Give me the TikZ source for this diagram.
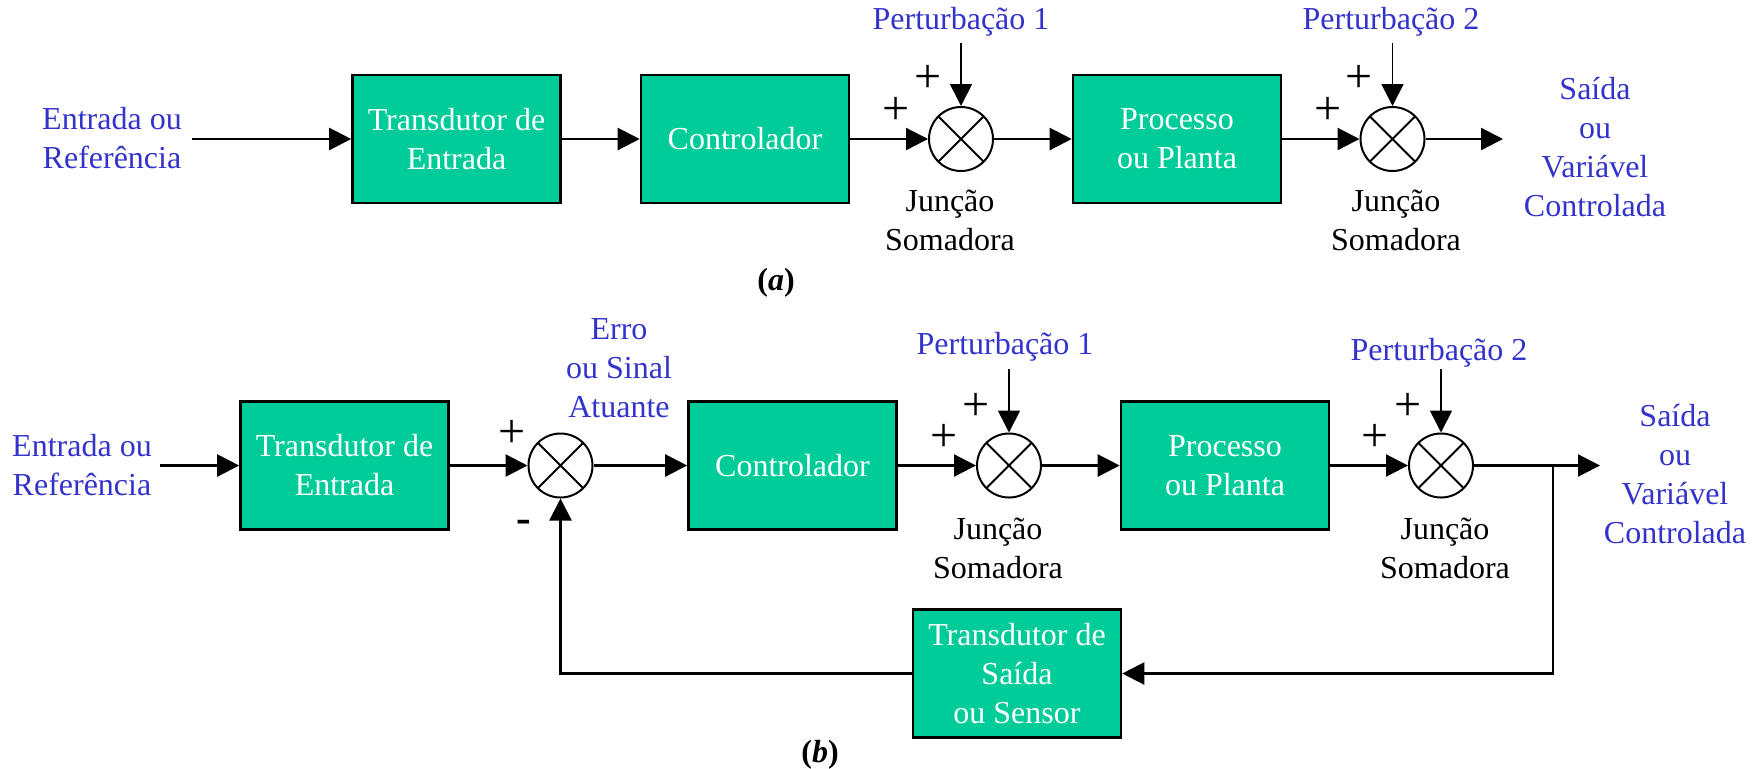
\documentclass[tikz,border=0pt]{standalone}
\usepackage{fontspec}
\setmainfont{Liberation Serif}
\usetikzlibrary{arrows.meta}
\definecolor{boxgreen}{RGB}{0,204,153}
\definecolor{txtblue}{RGB}{51,51,204}
\tikzset{
  every node/.style={font=\fontsize{16pt}{19.5pt}\selectfont},
  blk/.style={draw, line width=1.3pt, fill=boxgreen, text=white, align=center,
    minimum width=104pt, minimum height=64pt, inner sep=2pt},
  sumj/.style={circle, draw, line width=1pt, minimum size=32pt, inner sep=0pt,
    path picture={\draw[line width=1pt]
      (path picture bounding box.north west) -- (path picture bounding box.south east)
      (path picture bounding box.north east) -- (path picture bounding box.south west);}},
  lbl/.style={text=txtblue, align=center, inner sep=0pt},
  jl/.style={text=black, align=center, inner sep=0pt},
  sgn/.style={text=black, inner sep=0pt, font=\fontsize{24pt}{24pt}\selectfont},
  msgn/.style={text=black, inner sep=0pt, font=\fontsize{22pt}{22pt}\selectfont\bfseries},
  sig/.style={line width=1.15pt, -{Triangle[length=11pt,width=11pt]}},
  dist/.style={line width=0.8pt, -{Triangle[length=11pt,width=11pt]}},
}
\begin{document}
\begin{tikzpicture}[x=0.5pt,y=-0.5pt]
\useasboundingbox (0,0) rectangle (1762,768);

% ---------- (a) open loop ----------
\node[blk] (ta) at (456.5,139) {Transdutor de\\Entrada};
\node[blk] (ca) at (745,139) {Controlador};
\node[sumj] (s1a) at (961,139) {};
\node[blk] (pa) at (1177,139) {Processo\\ou Planta};
\node[sumj] (s2a) at (1392.5,139) {};

\node[lbl] (ina) at (112,138) {Entrada ou\\Referência};
\coordinate (ina0) at (192,139);
\coordinate (outa) at (1503,139);
\node[lbl] (outla) at (1595,147) {Saída\\ou\\Variável\\Controlada};
\node[lbl] (p1a) at (961,22) {Perturbação 1};
\coordinate (p1a0) at (961,43);
\node[lbl] (p2a) at (1391,22) {Perturbação 2};
\coordinate (p2a0) at (1392.5,43);

\node[sgn] (pl1a) at (928,79) {+};
\node[sgn] (pl2a) at (896,111) {+};
\node[sgn] (pl3a) at (1359,79) {+};
\node[sgn] (pl4a) at (1328,111) {+};

\node[jl] (j1a) at (950,220) {Junção\\Somadora};
\node[jl] (j2a) at (1396,220) {Junção\\Somadora};
\node (capa) at (776,283) {\textbf{(}\textbf{\textit{a}}\textbf{)}};

\draw[sig] (ina0) -- (ta);
\draw[sig] (ta) -- (ca);
\draw[sig] (ca) -- (s1a);
\draw[sig] (s1a) -- (pa);
\draw[sig] (pa) -- (s2a);
\draw[sig] (s2a) -- (outa);
\draw[dist] (p1a0) -- (s1a.north);
\draw[dist] (p2a0) -- (s2a.north);

% ---------- (b) closed loop ----------
\node[blk] (tb) at (344.5,465.5) {Transdutor de\\Entrada};
\node[sumj] (s0b) at (560.5,465.5) {};
\node[blk] (cb) at (792.5,465.5) {Controlador};
\node[sumj] (s1b) at (1009,465.5) {};
\node[blk] (pb) at (1225,465.5) {Processo\\ou Planta};
\node[sumj] (s2b) at (1441,465.5) {};
\node[blk] (fb) at (1017,673.5) {Transdutor de\\Saída\\ou Sensor};

\node[lbl] (inb) at (82,465) {Entrada ou\\Referência};
\coordinate (inb0) at (160,465.5);
\coordinate (outb) at (1600,465.5);
\coordinate (brb) at (1553,465.5);
\node[lbl] (outlb) at (1675,474) {Saída\\ou\\Variável\\Controlada};
\node[lbl] (errb) at (619,368) {Erro\\ou Sinal\\Atuante};
\node[lbl] (p1b) at (1005,347) {Perturbação 1};
\coordinate (p1b0) at (1009,369);
\node[lbl] (p2b) at (1439,353) {Perturbação 2};
\coordinate (p2b0) at (1441,369);

\node[sgn] (pl0b) at (512,434) {+};
\node[msgn] (mi0b) at (524,526) {-};
\node[sgn] (pl1b) at (976,407) {+};
\node[sgn] (pl2b) at (944,438) {+};
\node[sgn] (pl3b) at (1408,407) {+};
\node[sgn] (pl4b) at (1375,438) {+};

\node[jl] (j1b) at (998,548) {Junção\\Somadora};
\node[jl] (j2b) at (1445,548) {Junção\\Somadora};
\node (capb) at (820,755) {\textbf{(}\textbf{\textit{b}}\textbf{)}};

\draw[sig] (inb0) -- (tb);
\draw[sig] (tb) -- (s0b);
\draw[sig] (s0b) -- (cb);
\draw[sig] (cb) -- (s1b);
\draw[sig] (s1b) -- (pb);
\draw[sig] (pb) -- (s2b);
\draw[sig] (s2b) -- (outb);
\draw[dist] (p1b0) -- (s1b.north);
\draw[dist] (p2b0) -- (s2b.north);
\draw[sig] (brb) |- (fb.east);
\draw[sig] (fb.west) -| (s0b.south);
\end{tikzpicture}
\end{document}
